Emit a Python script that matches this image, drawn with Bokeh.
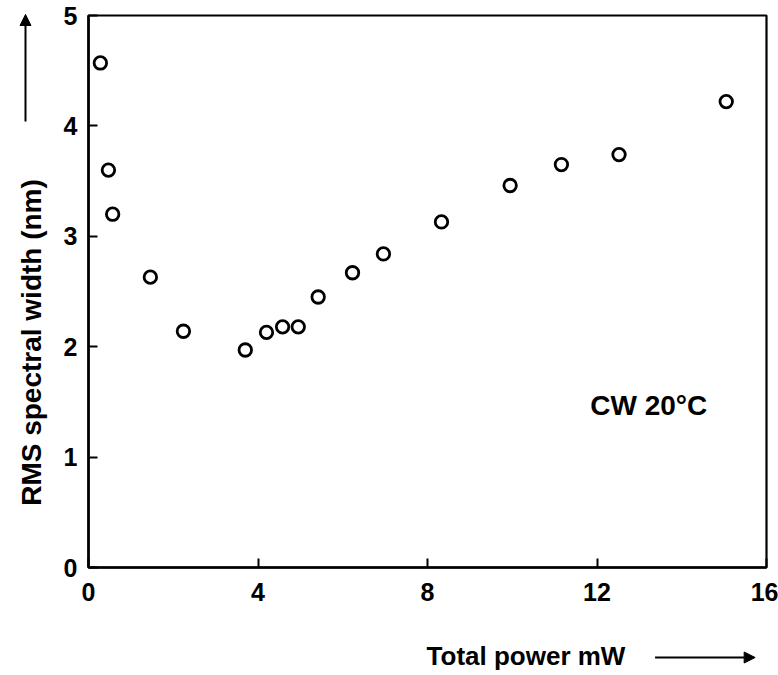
from bokeh.plotting import figure
from bokeh.models import Label, Arrow, NormalHead, FixedTicker, Range1d
from bokeh.layouts import row, column
from bokeh.embed import file_html
from bokeh.resources import INLINE

power_mw = [0.28, 0.47, 0.57, 1.46, 2.24, 3.70, 4.20, 4.58, 4.95, 5.42,
            6.23, 6.96, 8.33, 9.95, 11.16, 12.52, 15.05]
rms_width_nm = [4.57, 3.60, 3.20, 2.63, 2.14, 1.97, 2.13, 2.18, 2.18, 2.45,
                2.67, 2.84, 3.13, 3.46, 3.65, 3.74, 4.22]
x_ticks = [0, 4, 8, 12, 16]
y_ticks = [0, 1, 2, 3, 4, 5]
x_title = "Total power mW"
y_title = "RMS spectral width (nm)"
note = "CW 20°C"

FONT = "Liberation Sans"


def strip(width, height, xr, yr):
    s = figure(width=width, height=height, x_range=Range1d(*xr), y_range=Range1d(*yr),
               output_backend="svg", toolbar_location=None,
               x_axis_location=None, y_axis_location=None,
               min_border=0, min_border_left=0, min_border_right=0,
               min_border_top=0, min_border_bottom=0)
    s.grid.visible = False
    s.outline_line_color = None
    s.background_fill_color = "white"
    s.border_fill_color = "white"
    return s


# main chart
p = figure(width=718, height=620, x_range=(0, 16), y_range=(0, 5),
           output_backend="svg", toolbar_location=None,
           min_border_left=28, min_border_right=12, min_border_top=15,
           min_border_bottom=53)
p.grid.visible = False
p.outline_line_color = "black"
p.outline_line_width = 2.2
p.background_fill_color = "white"
p.border_fill_color = "white"

for ax in (p.xaxis[0], p.yaxis[0]):
    ax.axis_line_width = 2.5
    ax.axis_line_color = "black"
    ax.major_tick_in = 9
    ax.major_tick_out = 0
    ax.major_tick_line_width = 2
    ax.minor_tick_line_color = None
    ax.major_label_text_font = FONT
    ax.major_label_text_font_size = "25px"
    ax.major_label_text_font_style = "bold"
    ax.major_label_text_color = "black"

p.xaxis[0].ticker = FixedTicker(ticks=x_ticks)
p.yaxis[0].ticker = FixedTicker(ticks=y_ticks)
p.xaxis[0].major_label_standoff = 15
p.yaxis[0].major_label_standoff = 11

p.scatter(power_mw, rms_width_nm, marker="circle", size=12.5,
          fill_color="white", line_color="black", line_width=2.8)

p.add_layout(Label(x=13.22, y=1.47, text=note, text_font=FONT,
                   text_font_size="28px", text_font_style="bold",
                   text_align="center", text_baseline="middle",
                   text_color="black"))

# left strip: y title and upward arrow (coordinates are canvas pixels, y up)
left = strip(60, 675, (0, 60), (0, 675))
left.add_layout(Label(x=31, y=675 - 342, text=y_title, text_font=FONT,
                      text_font_size="28px", text_font_style="bold",
                      angle=90, angle_units="deg", text_align="center",
                      text_baseline="middle", text_color="black"))
left.add_layout(Arrow(x_start=25, y_start=675 - 121, x_end=25, y_end=675 - 14,
                      line_width=2, line_color="black",
                      end=NormalHead(size=11, fill_color="black", line_color="black")))

# bottom strip: x title and right arrow
bottom = strip(718, 55, (60, 778), (0, 55))
bottom.add_layout(Label(x=418, y=675 - 655, text=x_title, text_font=FONT,
                        text_font_size="26px", text_font_style="bold",
                        text_align="left", text_baseline="middle",
                        text_color="black"))
bottom.add_layout(Arrow(x_start=660, y_start=675 - 657, x_end=766, y_end=675 - 657,
                        line_width=2, line_color="black",
                        end=NormalHead(size=11, fill_color="black", line_color="black")))

layout = row(left, column(p, bottom, spacing=0), spacing=0)
open("out.html", "w").write(file_html(layout, INLINE))
